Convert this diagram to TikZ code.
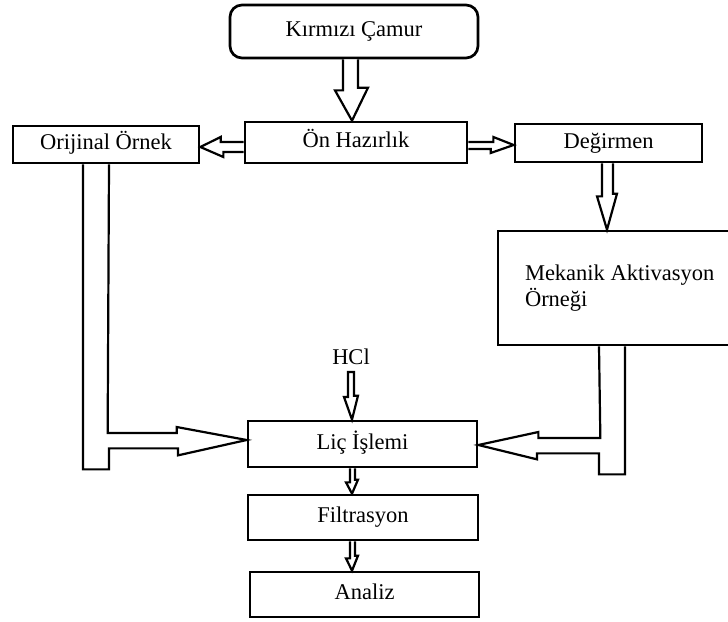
\documentclass[tikz,border=0pt]{standalone}
\usepackage{fontspec}
\setmainfont{Liberation Serif}
\usepackage{tikz}
\usetikzlibrary{positioning}

\begin{document}
\begin{tikzpicture}[x=1pt,y=-1pt,
  box/.style={draw,line width=2.7pt,inner sep=0pt,font=\fontsize{22.5}{26}\selectfont},
  onel/.style={box,text height=15,text depth=5},
  hollow/.style={draw,line width=2.2pt,line join=miter,fill=white}]
  \useasboundingbox (0,0) rectangle (728,621);

  \node[onel,rounded corners=12pt,minimum width=248,minimum height=53] (kc) at (354,31.5) {K\i rm\i z\i{} Çamur};
  \node[onel,minimum width=222,minimum height=41] (on)  at (356,142.5) {Ön Haz\i rl\i k};
  \node[onel,minimum width=186,minimum height=37] (orj) at (106,144.5) {Orijinal Örnek};
  \node[onel,minimum width=187,minimum height=38] (deg) at (608.5,143) {Değirmen};
  \node[box,minimum width=262,minimum height=114,text width=208,inner xsep=27,align=flush left] (mek) at (629,288) {Mekanik Aktivasyon\\Örneği};
  \node[inner sep=0pt,anchor=south,font=\fontsize{22.5}{26}\selectfont] (hcl) at (351,365) {HCl};
  \node[onel,minimum width=229,minimum height=46] (lic) at (362.5,444) {Liç İşlemi};
  \node[onel,minimum width=230,minimum height=45] (fil) at (363,517.5) {Filtrasyon};
  \node[onel,minimum width=229,minimum height=45] (ana) at (364.5,594.5) {Analiz};

  % block arrows
  \draw[hollow] ([xshift=-11]kc.south) -- ++(0,31) -- ++(-8,0) -- ([xshift=-4]on.north)
     -- ++(16,-33) -- ++(-10,0) -- ([xshift=4]kc.south);
  \draw[hollow] ([yshift=0.5]on.west) -- ++(-23,0) -- ++(0,-5) -- ([yshift=-2.5]orj.east)
     -- ++(23,10) -- ++(0,-5) -- ([yshift=-9.5]on.west);
  \draw[hollow] ([yshift=0.5]on.east) -- ++(25,0) -- ++(0,-5) -- ([yshift=-2]deg.west)
     -- ++(-23,8) -- ++(0,-4) -- ([yshift=-6.5]on.east);
  \draw[hollow] ([xshift=-6.5]deg.south) -- ++(0,33) -- ++(-5,0) -- ([xshift=-22]mek.north)
     -- ++(10,-36) -- ++(-4,0) -- ([xshift=4.5]deg.south);
  \draw[hollow] ([xshift=-3,yshift=-7]hcl.south) -- ++(0,25) -- ++(-4,0) -- ([xshift=-10.5]lic.north)
     -- ++(6,-24) -- ++(-4,0) -- ([xshift=3,yshift=-7]hcl.south) -- cycle;
  \draw[hollow] ([xshift=-12.5]lic.south) -- ++(0,14) -- ++(-4,0) -- ([xshift=-11]fil.north)
     -- ++(6,-14) -- ++(-3,0) -- ([xshift=-7.5]lic.south);
  \draw[hollow] ([xshift=-13]fil.south) -- ++(0,17) -- ++(-4,0) -- ([xshift=-12.5]ana.north)
     -- ++(6,-15) -- ++(-3,0) -- ([xshift=-8]fil.south);

  % T shaped arrows into Lic
  \draw[hollow] ([xshift=-23]orj.south) -- ++(0,305) -- ++(26,0) -- ++(0,-21) -- ++(69,0)
     -- ++(0,7) -- ([yshift=4]lic.west) -- ++(-70,-13) -- ++(0,6) -- ++(-69,0) -- ([xshift=3]orj.south);
  \draw[hollow] ([xshift=-4]mek.south) -- ++(0,128) -- ++(-26,0) -- ++(0,-21) -- ++(-62,0)
     -- ++(0,6) -- ([yshift=-1]lic.east) -- ++(60,-13) -- ++(0,6) -- ++(62,0) -- ([xshift=-30]mek.south);
\end{tikzpicture}
\end{document}
